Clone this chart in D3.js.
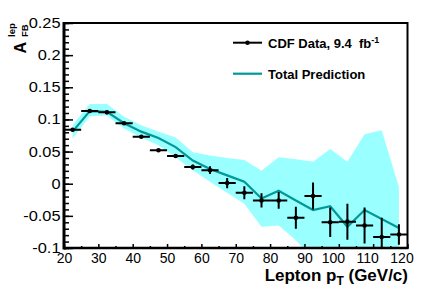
<!DOCTYPE html>
<html><head><meta charset="utf-8">
<script src="https://cdn.jsdelivr.net/npm/d3@7"></script>
<style>
body{margin:0;background:#fff}
svg{display:block}
text{font-family:"Liberation Sans",Arial,Helvetica,sans-serif;white-space:pre}
</style>
</head><body>
<svg id="c" width="429" height="291"></svg>
<script>
// ---- data ----
const ptBins     = [22.5, 27.5, 32.5, 37.5, 42.5, 47.5, 52.5, 57.5, 62.5, 67.5, 72.5, 77.5, 82.5, 87.5, 92.5, 97.5, 102.5, 107.5, 112.5, 117.5];
const ptHalfWidth = 2.5;
const cdfData    = [0.084, 0.113, 0.111, 0.094, 0.073, 0.052, 0.043, 0.026, 0.021, 0.001, -0.014, -0.026, -0.026, -0.053, -0.019, -0.060, -0.059, -0.065, -0.083, -0.079];
const cdfErr     = [0.002, 0.002, 0.002, 0.002, 0.002, 0.002, 0.002, 0.004, 0.006, 0.008, 0.010, 0.011, 0.013, 0.017, 0.021, 0.023, 0.028, 0.028, 0.030, 0.016];
const prediction = [0.081, 0.113, 0.112, 0.094, 0.081, 0.071, 0.057, 0.036, 0.023, 0.013, 0.003, -0.023, -0.011, -0.026, -0.041, -0.035, -0.067, -0.041, -0.055, -0.069];
const predUp     = [0.091, 0.124, 0.124, 0.104, 0.091, 0.081, 0.072, 0.049, 0.044, 0.040, 0.037, 0.020, 0.041, 0.038, 0.034, 0.054, 0.034, 0.077, 0.083, -0.005];
const predDown   = [0.070, 0.105, 0.106, 0.086, 0.072, 0.060, 0.041, 0.021, 0.003, -0.014, -0.031, -0.067, -0.065, -0.088, -0.117, -0.13, -0.14, -0.14, -0.14, -0.14];
const xTicks      = [20, 30, 40, 50, 60, 70, 80, 90, 100, 110, 120];
const xMinorTicks = [25, 35, 45, 55, 65, 75, 85, 95, 105, 115];
const yTicks      = [-0.1, -0.05, 0, 0.05, 0.1, 0.15, 0.2, 0.25];
const legendLabels = ["CDF Data, 9.4  fb", "Total Prediction"];

// ---- layout ----
const svg = d3.select("#c");
const L = 64, R = 407.5, T = 23, B = 248;
const x = d3.scaleLinear().domain([20, 120]).range([L, R]);
const y = d3.scaleLinear().domain([-0.1, 0.25]).range([B, T]);
const FONT = '"Liberation Sans",Arial,Helvetica,sans-serif';

svg.append("defs").append("clipPath").attr("id", "clip")
  .append("rect").attr("x", L).attr("y", T).attr("width", R - L).attr("height", B - T);
const plot = svg.append("g").attr("clip-path", "url(#clip)");
const idx = d3.range(ptBins.length);

// band
plot.append("path").datum(idx)
  .attr("fill", "#99ffff")
  .attr("d", d3.area().x(i => x(ptBins[i])).y0(i => y(predDown[i])).y1(i => y(predUp[i])));
// prediction line
plot.append("path").datum(idx)
  .attr("fill", "none").attr("stroke", "#009999").attr("stroke-width", 2.2)
  .attr("d", d3.line().x(i => x(ptBins[i])).y(i => y(prediction[i])));

// data error bars
const eb = plot.append("g").attr("stroke", "#000").attr("stroke-width", 2);
eb.selectAll("line.h").data(idx).join("line").attr("class", "h")
  .attr("x1", i => x(ptBins[i] - ptHalfWidth)).attr("x2", i => x(ptBins[i] + ptHalfWidth))
  .attr("y1", i => y(cdfData[i])).attr("y2", i => y(cdfData[i]));
eb.selectAll("line.v").data(idx).join("line").attr("class", "v")
  .attr("x1", i => x(ptBins[i])).attr("x2", i => x(ptBins[i]))
  .attr("y1", i => y(cdfData[i] - cdfErr[i])).attr("y2", i => y(cdfData[i] + cdfErr[i]));
plot.append("g").selectAll("circle").data(idx).join("circle")
  .attr("cx", i => x(ptBins[i])).attr("cy", i => y(cdfData[i])).attr("r", 2.3).attr("fill", "#000");

// ---- axes ----
const fmt = d => String(+d.toFixed(2));
const gyMinor = svg.append("g").attr("transform", `translate(${L},0)`)
  .call(d3.axisLeft(y).ticks(35).tickSize(-5).tickFormat(""));
gyMinor.select(".domain").remove();
gyMinor.selectAll("line").attr("stroke-width", 1.5);

const gy = svg.append("g").attr("transform", `translate(${L},0)`)
  .call(d3.axisLeft(y).tickValues(yTicks).tickSize(-9).tickPadding(3).tickFormat(fmt));
gy.attr("font-family", FONT).attr("font-size", 14);
gy.select(".domain").remove();
gy.selectAll("line").attr("stroke-width", 1.5);
gy.selectAll("text").attr("fill", "#000").attr("transform", "scale(1.17,1)");

const gxMinor = svg.append("g").attr("transform", `translate(0,${B})`)
  .call(d3.axisBottom(x).tickValues(xMinorTicks).tickSize(-2).tickFormat(""));
gxMinor.select(".domain").remove();
gxMinor.selectAll("line").attr("stroke-width", 1.5);

const gx = svg.append("g").attr("transform", `translate(0,${B})`)
  .call(d3.axisBottom(x).tickValues(xTicks).tickSize(-4).tickPadding(5).tickFormat(d => String(d)));
gx.attr("font-family", FONT).attr("font-size", 14);
gx.select(".domain").remove();
gx.selectAll("line").attr("stroke-width", 1.5);
gx.selectAll("text").attr("fill", "#000").attr("dx", d => d >= 100 ? -6 : 0);

// frame
svg.append("rect").attr("x", L).attr("y", T).attr("width", R - L).attr("height", B - T)
  .attr("fill", "none").attr("stroke", "#000").attr("stroke-width", 2);
svg.append("line").attr("x1", L).attr("x2", L).attr("y1", T - 1).attr("y2", B + 1.5)
  .attr("stroke", "#000").attr("stroke-width", 3);
svg.append("line").attr("x1", L).attr("x2", R + 1).attr("y1", B).attr("y2", B)
  .attr("stroke", "#000").attr("stroke-width", 2.5);

// ---- titles ----
const xt = svg.append("text").attr("x", 408).attr("y", 281).attr("text-anchor", "end")
  .attr("font-size", 17).attr("font-weight", "bold").attr("fill", "#000");
xt.append("tspan").text("Lepton p");
xt.append("tspan").attr("font-size", 12).attr("dy", 4).text("T");
xt.append("tspan").attr("dy", -4).text(" (GeV/c)");

const yt = svg.append("g").attr("transform", "translate(25.5,53.5) rotate(-90)")
  .attr("font-weight", "bold").attr("fill", "#000");
yt.append("text").attr("x", 0).attr("y", 0).attr("font-size", 16).text("A");
yt.append("text").attr("x", 16.5).attr("y", -11).attr("font-size", 9.5).text("lep");
yt.append("text").attr("x", 16.5).attr("y", 2).attr("font-size", 9.5).text("FB");

// ---- legend ----
const lg = svg.append("g");
lg.append("line").attr("x1", 233).attr("x2", 262).attr("y1", 42.7).attr("y2", 42.7)
  .attr("stroke", "#000").attr("stroke-width", 2);
lg.append("circle").attr("cx", 247.5).attr("cy", 42.7).attr("r", 2.3).attr("fill", "#000");
lg.append("line").attr("x1", 233).attr("x2", 262).attr("y1", 73.7).attr("y2", 73.7)
  .attr("stroke", "#009999").attr("stroke-width", 2.2);
const t1 = lg.append("text").attr("x", 268).attr("y", 47.5).attr("font-size", 13).attr("font-weight", "bold").attr("fill", "#000");
t1.append("tspan").text(legendLabels[0]);
t1.append("tspan").attr("font-size", 9).attr("dy", -5).text("-1");
lg.append("text").attr("x", 268).attr("y", 78.5).attr("font-size", 13).attr("font-weight", "bold").attr("fill", "#000")
  .text(legendLabels[1]);
</script>
</body></html>
